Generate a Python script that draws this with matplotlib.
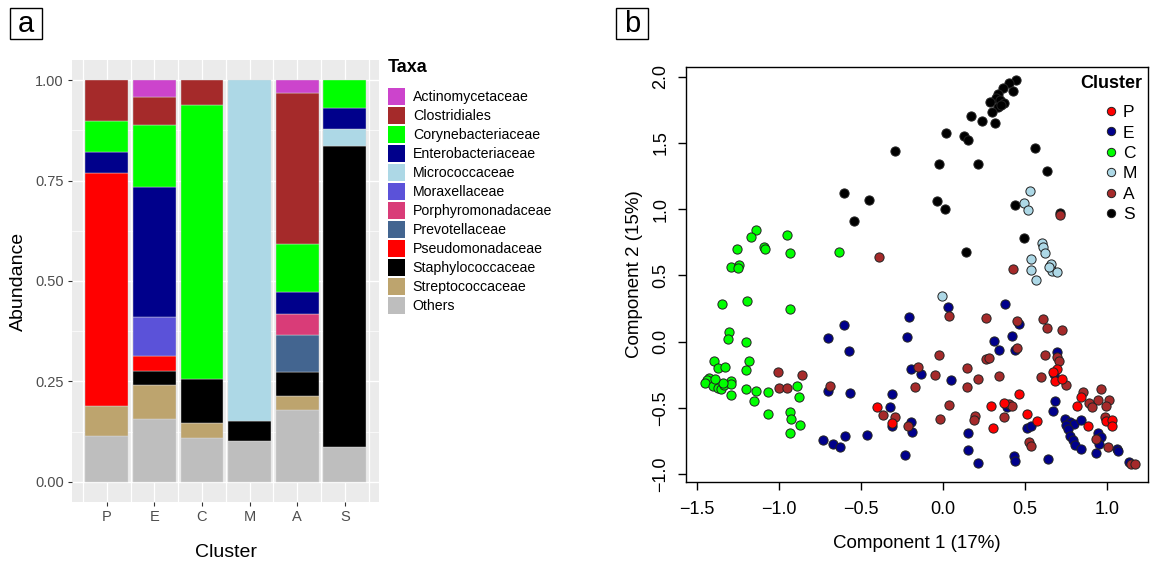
import matplotlib
matplotlib.use("Agg")
import matplotlib.pyplot as plt
from matplotlib.patches import Patch, Rectangle
from matplotlib.lines import Line2D
import numpy as np

plt.rcParams['font.family'] = ['Liberation Sans', 'DejaVu Sans']

# ---------------- panel a data ----------------
clusters = ["P", "E", "C", "M", "A", "S"]
taxa = ["Actinomycetaceae", "Clostridiales", "Corynebacteriaceae",
        "Enterobacteriaceae", "Micrococcaceae", "Moraxellaceae",
        "Porphyromonadaceae", "Prevotellaceae", "Pseudomonadaceae",
        "Staphylococcaceae", "Streptococcaceae", "Others"]

actinomycetaceae   = [0.000, 0.042, 0.000, 0.000, 0.031, 0.000]
clostridiales      = [0.103, 0.069, 0.063, 0.000, 0.377, 0.000]
corynebacteriaceae = [0.077, 0.156, 0.682, 0.000, 0.119, 0.070]
enterobacteriaceae = [0.050, 0.323, 0.000, 0.000, 0.054, 0.052]
micrococcaceae     = [0.000, 0.000, 0.000, 0.848, 0.000, 0.042]
moraxellaceae      = [0.000, 0.097, 0.000, 0.000, 0.000, 0.000]
porphyromonadaceae = [0.000, 0.000, 0.000, 0.000, 0.053, 0.000]
prevotellaceae     = [0.000, 0.000, 0.000, 0.000, 0.093, 0.000]
pseudomonadaceae   = [0.582, 0.038, 0.000, 0.000, 0.000, 0.000]
staphylococcaceae  = [0.000, 0.034, 0.109, 0.049, 0.059, 0.748]
streptococcaceae   = [0.073, 0.085, 0.037, 0.000, 0.035, 0.000]
others             = [0.115, 0.156, 0.109, 0.103, 0.179, 0.088]

abundance = [actinomycetaceae, clostridiales, corynebacteriaceae,
             enterobacteriaceae, micrococcaceae, moraxellaceae,
             porphyromonadaceae, prevotellaceae, pseudomonadaceae,
             staphylococcaceae, streptococcaceae, others]

taxa_colors = ["#CC44CC", "#A52A2A", "#00FF00", "#00008B", "#ADD8E6", "#5B52D9",
               "#D93C78", "#436590", "#FF0000", "#000000", "#BDA46E", "#BEBEBE"]

# ---------------- panel b data ----------------
P_x = [-0.404, -0.313, 0.291, 0.462, 0.374, 0.307, 0.510, 0.575, 0.697, 0.669,
       0.683, 0.727, 0.840, 0.815, 0.882, 0.994, 1.029, 1.030]
P_y = [-0.494, -0.613, -0.485, -0.396, -0.466, -0.651, -0.545, -0.602, -0.208, -0.232,
       -0.296, -0.281, -0.417, -0.485, -0.638, -0.602, -0.592, -0.638]

E_x = [-0.602, -0.701, -0.573, -0.703, -0.567, -0.730, -0.673, -0.628, -0.598, -0.466,
       0.032, -0.209, -0.221, 0.380, 0.465, 0.423, 0.313, 0.340, 0.439, -0.195,
       -0.132, 0.049, -0.309, -0.325, -0.309, -0.197, -0.191, 0.390, 0.510, 0.535,
       0.154, -0.234, 0.154, 0.213, 0.433, 0.439, 0.693, 0.679, 0.683, 0.669,
       0.744, 0.774, 0.801, 0.841, 0.750, 0.760, 0.774, 0.795, 0.805, 0.841,
       0.933, 0.943, 0.963, 0.953, 1.063, 1.069, 0.638, 1.134]
E_y = [0.125, 0.024, -0.069, -0.371, -0.391, -0.743, -0.774, -0.794, -0.715, -0.703,
       0.260, 0.187, 0.036, 0.281, 0.132, 0.039, 0.002, -0.064, -0.064, -0.208,
       -0.243, -0.291, -0.398, -0.497, -0.638, -0.610, -0.681, -0.497, -0.653, -0.638,
       -0.688, -0.859, -0.819, -0.917, -0.862, -0.904, -0.082, -0.243, -0.451, -0.522,
       -0.587, -0.605, -0.625, -0.590, -0.632, -0.663, -0.713, -0.743, -0.781, -0.811,
       -0.844, -0.693, -0.723, -0.774, -0.811, -0.824, -0.885, -0.912]

C_x = [-1.138, -1.173, -0.953, -1.258, -1.091, -1.085, -0.931, -0.636, -1.295, -1.244,
       -1.250, -1.349, -1.197, -0.935, -1.305, -1.309, -1.203, -1.396, -1.181, -1.374,
       -1.329, -1.199, -1.429, -1.437, -1.451, -1.404, -1.374, -1.354, -1.334, -1.293,
       -1.291, -1.343, -1.295, -1.199, -1.140, -1.154, -1.065, -0.890, -0.876, -1.069,
       -0.933, -0.927, -0.870, -0.933, -1.390]
C_y = [0.842, 0.791, 0.802, 0.698, 0.715, 0.696, 0.668, 0.678, 0.565, 0.577,
       0.552, 0.285, 0.303, 0.248, 0.074, 0.017, -0.006, -0.145, -0.149, -0.198,
       -0.192, -0.215, -0.273, -0.291, -0.315, -0.336, -0.353, -0.358, -0.328, -0.296,
       -0.323, -0.315, -0.406, -0.356, -0.371, -0.449, -0.379, -0.334, -0.417, -0.549,
       -0.530, -0.587, -0.632, -0.693, -0.281]

M_x = [0.530, 0.496, 0.516, 0.602, 0.612, 0.622, 0.535, 0.657, 0.663, 0.693,
       0.535, 0.567, -0.004, 0.648]
M_y = [1.138, 1.043, 0.992, 0.741, 0.715, 0.666, 0.620, 0.585, 0.534, 0.527,
       0.540, 0.464, 0.341, 0.560]

A_x = [-1.004, -0.858, -1.000, -0.953, -0.689, -0.392, 0.037, 0.262, 0.449, 0.449,
       -0.024, 0.262, 0.280, -0.154, -0.051, 0.148, 0.212, 0.145, 0.343, 0.595,
       -0.169, -0.364, -0.293, -0.213, 0.037, -0.016, 0.402, 0.419, 0.197, 0.189,
       0.372, 0.524, 0.535, 0.612, 0.632, 0.727, 0.622, 0.697, 0.709, 0.750,
       0.855, 0.963, 0.943, 1.010, 0.888, 0.909, 0.994, 0.988, 0.933, 1.004,
       1.146, 1.171, 0.713, 0.425]
A_y = [-0.232, -0.251, -0.349, -0.353, -0.336, 0.635, 0.195, 0.177, 0.157, -0.051,
       -0.104, -0.134, -0.125, -0.190, -0.253, -0.200, -0.281, -0.341, -0.260, -0.266,
       -0.341, -0.557, -0.572, -0.635, -0.482, -0.583, -0.472, -0.487, -0.560, -0.592,
       -0.570, -0.761, -0.786, 0.172, 0.100, 0.087, -0.104, -0.115, -0.147, -0.326,
       -0.379, -0.358, -0.442, -0.442, -0.466, -0.497, -0.485, -0.572, -0.738, -0.798,
       -0.925, -0.927, 0.955, 0.545]

S_x = [0.445, 0.404, 0.429, 0.364, 0.337, 0.323, 0.348, 0.287, 0.372, 0.337,
       0.297, 0.352, 0.171, 0.240, 0.315, 0.018, 0.130, 0.151, 0.559, -0.023,
       0.215, 0.632, -0.035, 0.014, 0.437, 0.713, 0.494, 0.140, -0.291, -0.602,
       -0.449, -0.541, 0.652]
S_y = [1.974, 1.953, 1.891, 1.915, 1.866, 1.840, 1.823, 1.805, 1.798, 1.772,
       1.734, 1.785, 1.700, 1.662, 1.649, 1.571, 1.551, 1.521, 1.463, 1.340,
       1.340, 1.287, 1.058, 0.998, 1.028, 0.970, 0.783, 0.673, 1.435, 1.123,
       1.070, 0.907, 0.570]

cluster_colors = {"P": "#FF0000", "E": "#00008B", "C": "#00FF00",
                  "M": "#ADD8E6", "A": "#A52A2A", "S": "#000000"}

# ---------------- figure ----------------
W, H = 1152, 565
fig = plt.figure(figsize=(W / 100, H / 100), dpi=100)


def fx(px):
    return px / W


def fy(py):
    return 1 - py / H


# ===== panel a : stacked bars (ggplot look) =====
ax_a = fig.add_axes([fx(72), fy(502), (379 - 72) / W, (502 - 60) / H])
ax_a.set_facecolor("#EBEBEB")
for yv in np.arange(0.125, 1.0, 0.25):
    ax_a.axhline(yv, color="white", lw=0.5, zorder=0)
for yv in np.arange(0, 1.01, 0.25):
    ax_a.axhline(yv, color="white", lw=1.0, zorder=0)
for xv in np.arange(0.5, 6.6, 0.5):
    ax_a.axvline(xv, color="white", lw=0.9, zorder=0)

xpos = np.arange(1, len(clusters) + 1)
bottom = np.zeros(len(clusters))
for name, vals, col in reversed(list(zip(taxa, abundance, taxa_colors))):
    vals = np.array(vals)
    mask = vals > 0
    ax_a.bar(xpos[mask], vals[mask], 0.9, bottom=bottom[mask], color=col,
             edgecolor="#dddddd", linewidth=0.3, zorder=2)
    bottom += vals

ax_a.set_xlim(0.27, 6.72)
ax_a.set_ylim(-0.05, 1.05)
ax_a.set_xticks(xpos)
ax_a.set_xticklabels(clusters)
ax_a.set_yticks([0, 0.25, 0.5, 0.75, 1.0])
ax_a.set_yticklabels(["0.00", "0.25", "0.50", "0.75", "1.00"])
ax_a.tick_params(length=3, color="#333333", labelcolor="#4D4D4D", labelsize=10.5, pad=3)
for s in ax_a.spines.values():
    s.set_visible(False)
ax_a.set_xlabel("Cluster", fontsize=14, labelpad=14)
ax_a.set_ylabel("Abundance", fontsize=14, labelpad=6)

# legend a: title as text, keys through legend
fig.text(fx(388), fy(67), "Taxa", fontsize=13, fontweight="bold", ha="left", va="center")
handles_a = [Patch(facecolor=c, edgecolor="none") for c in taxa_colors]
leg_a = fig.legend(handles_a, taxa, loc="upper left", bbox_to_anchor=(fx(388), fy(88)),
                   frameon=False, fontsize=10.2,
                   handlelength=1.2, handleheight=1.45, labelspacing=0.155,
                   handletextpad=0.55, borderpad=0, borderaxespad=0)

# ===== panel b : PCoA scatter (base R look) =====
ax_b = fig.add_axes([fx(686), fy(482), (1148 - 686) / W, (482 - 67) / H])
groups = [("S", S_x, S_y), ("M", M_x, M_y), ("C", C_x, C_y),
          ("E", E_x, E_y), ("A", A_x, A_y), ("P", P_x, P_y)]
for g, xs, ys in groups:
    ax_b.scatter(xs, ys, s=44, c=cluster_colors[g], edgecolors="#222222",
                 linewidths=0.7, zorder=3)
ax_b.set_xlim(-1.567, 1.250)
ax_b.set_ylim(-1.060, 2.072)
ax_b.set_xticks([-1.5, -1.0, -0.5, 0.0, 0.5, 1.0])
ax_b.set_xticklabels(["\u22121.5", "\u22121.0", "\u22120.5", "0.0", "0.5", "1.0"])
ax_b.set_yticks([-1.0, -0.5, 0.0, 0.5, 1.0, 1.5, 2.0])
ax_b.set_yticklabels(["\u22121.0", "\u22120.5", "0.0", "0.5", "1.0", "1.5", "2.0"],
                     rotation=90, va="center")
ax_b.tick_params(axis="x", length=6, width=1, labelsize=13, pad=8)
ax_b.tick_params(axis="y", length=6, width=1, labelsize=13, pad=6)
for s in ax_b.spines.values():
    s.set_linewidth(1.0)
ax_b.set_xlabel("Component 1 (17%)", fontsize=13.5, labelpad=12)
ax_b.set_ylabel("Component 2 (15%)", fontsize=13.5, labelpad=7)

order = ["P", "E", "C", "M", "A", "S"]
fig.text(fx(1080), fy(83), "Cluster", fontsize=13, fontweight="bold", ha="left", va="center")
handles_b = [Line2D([], [], ls="none", marker="o", markersize=6,
                    markerfacecolor=cluster_colors[g], markeredgecolor="#222222",
                    markeredgewidth=0.7) for g in order]
leg_b = ax_b.legend(handles_b, order, loc="upper left", bbox_to_anchor=(fx(1104), fy(105)),
                    bbox_transform=fig.transFigure, frameon=False, fontsize=12.5,
                    handlelength=0.8, handletextpad=0.3, labelspacing=0.3,
                    borderpad=0, borderaxespad=0)

# ===== panel letters =====
for letter, x0 in [("a", 10), ("b", 616)]:
    fig.patches.append(Rectangle((fx(x0), fy(39)), 32 / W, 31 / H, transform=fig.transFigure,
                                 facecolor="white", edgecolor="black", linewidth=1.0))
    fig.text(fx(x0 + 16), fy(23.5), letter, fontsize=21, ha="center", va="center")

fig.savefig("out.png", dpi=100)
